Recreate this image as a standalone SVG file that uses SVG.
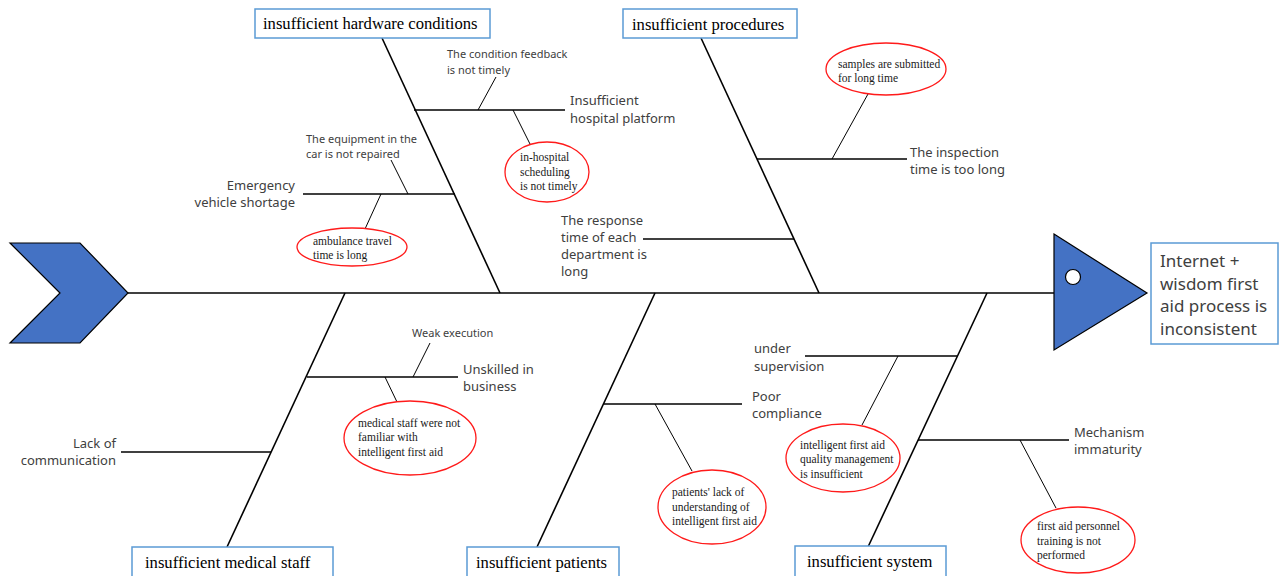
<svg xmlns="http://www.w3.org/2000/svg" width="1279" height="576" viewBox="0 0 1279 576">
<style>
.bg{fill:#fff}
.cat{fill:#fff;stroke:#5b9bd5;stroke-width:1.5}
.catt{font-family:"Liberation Serif",serif;font-size:16.6px;fill:#000}
.bone{stroke:#000;stroke-width:1.6;fill:none}
.sub{stroke:#000;stroke-width:1.6;fill:none}
.twig{stroke:#000;stroke-width:1;fill:none}
.lbl{font-family:"Noto Sans","Liberation Sans",sans-serif;font-size:13px;fill:#404040}
.sm{font-family:"Noto Sans","Liberation Sans",sans-serif;font-size:11px;fill:#404040}
.ell{fill:#fff;stroke:#ff1a1a;stroke-width:1.3}
.et{font-family:"Liberation Serif",serif;font-size:11.5px;fill:#1a1a1a}
.blue{fill:#4472c4;stroke:#000;stroke-width:1.2}
.head{font-family:"Noto Sans","Liberation Sans",sans-serif;font-size:17px;fill:#404040}
</style>
<rect class="bg" x="0" y="0" width="1279" height="576"/>
<g id="connectors">
<line class="bone" x1="128" y1="293" x2="1054" y2="293"/>
<line class="bone" x1="382" y1="38" x2="500" y2="293"/>
<line class="bone" x1="701" y1="38" x2="819" y2="293"/>
<line class="bone" x1="345" y1="293" x2="227" y2="547"/>
<line class="bone" x1="655" y1="293" x2="537" y2="547"/>
<line class="bone" x1="987" y1="293" x2="868" y2="547"/>
<line class="sub" x1="414" y1="110" x2="565" y2="110"/>
<line class="twig" x1="478" y1="110" x2="496" y2="77"/>
<line class="twig" x1="513" y1="110" x2="530" y2="144"/>
<line class="sub" x1="303" y1="194" x2="455" y2="194"/>
<line class="twig" x1="408" y1="194" x2="391" y2="160"/>
<line class="twig" x1="381" y1="194" x2="365" y2="229"/>
<line class="sub" x1="757" y1="159" x2="907" y2="159"/>
<line class="twig" x1="832" y1="159" x2="868" y2="94"/>
<line class="sub" x1="643" y1="239" x2="794" y2="239"/>
<line class="sub" x1="307" y1="377" x2="458" y2="377"/>
<line class="twig" x1="413" y1="377" x2="430" y2="343"/>
<line class="twig" x1="385" y1="377" x2="397" y2="402"/>
<line class="sub" x1="121" y1="452" x2="271" y2="452"/>
<line class="sub" x1="604" y1="404" x2="742" y2="404"/>
<line class="twig" x1="655" y1="404" x2="692" y2="471"/>
<line class="sub" x1="805" y1="356" x2="957" y2="356"/>
<line class="twig" x1="898" y1="356" x2="862" y2="425"/>
<line class="sub" x1="918" y1="440" x2="1069" y2="440"/>
<line class="twig" x1="1020" y1="440" x2="1056" y2="508"/>
</g>
<g id="tail">
<polygon class="blue" points="10,243 80,243 128,293 80,343 10,343 60,293"/>
</g>
<g id="head">
<polygon class="blue" points="1054,234 1147,293 1054,350"/>
<circle cx="1073" cy="277" r="7.5" fill="#fff" stroke="#000" stroke-width="1.2"/>
</g>
<g id="problem">
<rect class="cat" x="1151" y="243" width="127" height="101"/>
<text class="head" x="1160" y="267">Internet +</text>
<text class="head" x="1160" y="290">wisdom first</text>
<text class="head" x="1160" y="312">aid process is</text>
<text class="head" x="1160" y="335">inconsistent</text>
</g>
<g id="cat-hardware">
<rect class="cat" x="255" y="9" width="235" height="29"/>
<text class="catt" x="263" y="29">insufficient hardware conditions</text>
</g>
<g id="cat-procedures">
<rect class="cat" x="623" y="9" width="174" height="29"/>
<text class="catt" x="632" y="30">insufficient procedures</text>
</g>
<g id="cat-medical">
<rect class="cat" x="132" y="547" width="201" height="32"/>
<text class="catt" x="145" y="568">insufficient medical staff</text>
</g>
<g id="cat-patients">
<rect class="cat" x="467" y="547" width="152" height="32"/>
<text class="catt" x="476" y="568">insufficient patients</text>
</g>
<g id="cat-system">
<rect class="cat" x="795" y="546" width="151" height="33"/>
<text class="catt" x="807" y="567">insufficient system</text>
</g>
<g id="platform">
<text class="lbl" x="570" y="105">Insufficient</text>
<text class="lbl" x="570" y="123">hospital platform</text>
<text class="sm" x="447" y="58">The condition feedback</text>
<text class="sm" x="447" y="74">is not timely</text>
<ellipse class="ell" cx="547" cy="172" rx="42" ry="30"/>
<text class="et" x="520" y="161">in-hospital</text>
<text class="et" x="520" y="176">scheduling</text>
<text class="et" x="520" y="190">is not timely</text>
</g>
<g id="vehicle">
<text class="lbl" x="295" y="190" text-anchor="end">Emergency</text>
<text class="lbl" x="295" y="207" text-anchor="end">vehicle shortage</text>
<text class="sm" x="306" y="143">The equipment in the</text>
<text class="sm" x="306" y="158">car is not repaired</text>
<ellipse class="ell" cx="352" cy="247" rx="55" ry="19"/>
<text class="et" x="313" y="245">ambulance travel</text>
<text class="et" x="313" y="259">time is long</text>
</g>
<g id="inspection">
<text class="lbl" x="910" y="157">The inspection</text>
<text class="lbl" x="910" y="174">time is too long</text>
<ellipse class="ell" cx="886" cy="69" rx="60" ry="26"/>
<text class="et" x="838" y="68">samples are submitted</text>
<text class="et" x="838" y="82">for long time</text>
</g>
<g id="response">
<text class="lbl" x="561" y="225">The response</text>
<text class="lbl" x="561" y="242">time of each</text>
<text class="lbl" x="561" y="259">department is</text>
<text class="lbl" x="561" y="276">long</text>
</g>
<g id="unskilled">
<text class="lbl" x="463" y="374">Unskilled in</text>
<text class="lbl" x="463" y="391">business</text>
<text class="sm" x="412" y="337">Weak execution</text>
<ellipse class="ell" cx="410" cy="438" rx="66" ry="37"/>
<text class="et" x="358" y="427">medical staff were not</text>
<text class="et" x="358" y="441">familiar with</text>
<text class="et" x="358" y="456">intelligent first aid</text>
</g>
<g id="communication">
<text class="lbl" x="116" y="448" text-anchor="end">Lack of</text>
<text class="lbl" x="116" y="465" text-anchor="end">communication</text>
</g>
<g id="compliance">
<text class="lbl" x="752" y="401">Poor</text>
<text class="lbl" x="752" y="418">compliance</text>
<ellipse class="ell" cx="712" cy="507" rx="54" ry="37"/>
<text class="et" x="672" y="496">patients' lack of</text>
<text class="et" x="672" y="511">understanding of</text>
<text class="et" x="672" y="525">intelligent first aid</text>
</g>
<g id="supervision">
<text class="lbl" x="754" y="353">under</text>
<text class="lbl" x="754" y="371">supervision</text>
<ellipse class="ell" cx="843" cy="458" rx="57" ry="34"/>
<text class="et" x="800" y="449">intelligent first aid</text>
<text class="et" x="800" y="463">quality management</text>
<text class="et" x="800" y="478">is insufficient</text>
</g>
<g id="mechanism">
<text class="lbl" x="1074" y="437">Mechanism</text>
<text class="lbl" x="1074" y="454">immaturity</text>
<ellipse class="ell" cx="1078" cy="540" rx="57" ry="33"/>
<text class="et" x="1037" y="530">first aid personnel</text>
<text class="et" x="1037" y="545">training is not</text>
<text class="et" x="1037" y="559">performed</text>
</g>
</svg>
